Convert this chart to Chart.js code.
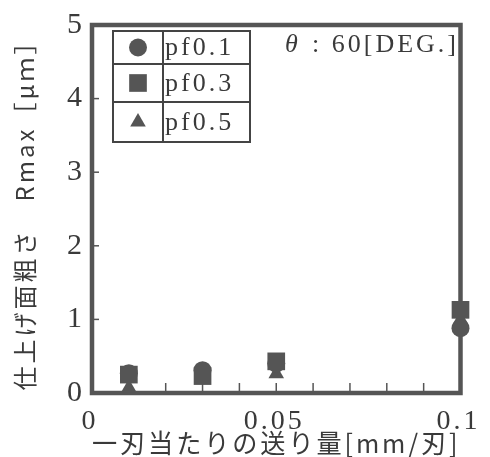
<!DOCTYPE html>
<html><head><meta charset="utf-8">
<script src="https://cdn.jsdelivr.net/npm/chart.js@4"></script>
<style>html,body{margin:0;padding:0;background:#fff}#wrap{width:490px;height:457px}</style>
</head><body><div id="wrap"><canvas id="c" width="490" height="457"></canvas></div>
<script>
// ---- data ----
const feedRates = [0.01, 0.03, 0.05, 0.1];            // 一刃当たりの送り量 [mm/刃]
const seriesLabels = ['pf0.1', 'pf0.3', 'pf0.5'];
const seriesStyles = ['circle', 'rect', 'triangle'];
const rmaxPf01 = [0.27, 0.31, 0.40, 0.88];
const rmaxPf03 = [0.25, 0.23, 0.43, 1.13];
const rmaxPf05 = [0.07, 0.25, 0.26, 1.00];
const xLabeledTicks = [0, 0.05, 0.1];
const xTitle = '一刃当たりの送り量[mm/刃]';
const yTitle = '仕上げ面粗さ　Rmax［μｍ］';
const annotationAngle = 'θ';
const annotationText = ': 60[DEG.]';

const INK = '#555555';
const TEXT = '#3a3a3a';
const TEXT_FONT = '26px "Liberation Serif"';

function toPoints(vals) { return feedRates.map((x, i) => ({x: x, y: vals[i]})); }
const seriesValues = [rmaxPf01, rmaxPf03, rmaxPf05];
const radii = {circle: 9, rect: 12.5, triangle: 9};
const orders = [1, 0, 2];

const datasets = seriesLabels.map((lab, i) => ({
  label: lab,
  data: toPoints(seriesValues[i]),
  pointStyle: seriesStyles[i],
  pointRadius: radii[seriesStyles[i]],
  backgroundColor: INK,
  borderColor: INK,
  borderWidth: 0,
  showLine: false,
  clip: false,
  order: orders[i]
}));

const framePlugin = {
  id: 'frame',
  beforeDraw(chart) {
    chart.ctx.letterSpacing = '3px';
  },
  beforeDatasetsDraw(chart) {
    const {ctx, chartArea: a, scales: {x, y}} = chart;
    ctx.save();
    ctx.strokeStyle = INK;
    ctx.lineWidth = 1.5;
    x.ticks.forEach(t => {
      const px = x.getPixelForValue(t.value);
      ctx.beginPath(); ctx.moveTo(px, a.bottom); ctx.lineTo(px, a.bottom - 10); ctx.stroke();
    });
    y.ticks.forEach(t => {
      const py = y.getPixelForValue(t.value);
      ctx.beginPath(); ctx.moveTo(a.left, py); ctx.lineTo(a.left + 7, py); ctx.stroke();
    });
    ctx.lineWidth = 4.5;
    ctx.strokeRect(a.left, a.top, a.right - a.left, a.bottom - a.top);
    ctx.restore();
  },
  afterDraw(chart) {
    const {ctx} = chart;
    ctx.save();
    // legend table
    const L = 113, M = 163, R = 250;
    const rows = [31, 64, 102, 142];
    ctx.letterSpacing = '0px';
    ctx.strokeStyle = '#444';
    ctx.lineWidth = 2;
    ctx.strokeRect(L, rows[0], R - L, rows[3] - rows[0]);
    ctx.beginPath();
    ctx.moveTo(M, rows[0]); ctx.lineTo(M, rows[3]);
    ctx.moveTo(L, rows[1]); ctx.lineTo(R, rows[1]);
    ctx.moveTo(L, rows[2]); ctx.lineTo(R, rows[2]);
    ctx.stroke();
    ctx.textBaseline = 'middle';
    ctx.textAlign = 'left';
    chart.data.datasets.forEach((ds, i) => {
      const cy = (rows[i] + rows[i + 1]) / 2;
      ctx.fillStyle = INK; ctx.strokeStyle = INK;
      ctx.letterSpacing = '0px';
      Chart.helpers.drawPoint(ctx, {pointStyle: ds.pointStyle, radius: ds.pointRadius, borderWidth: 0}, (L + M) / 2, cy);
      ctx.fillStyle = TEXT;
      ctx.letterSpacing = '3px';
      ctx.font = TEXT_FONT;
      ctx.fillText(ds.label, 165, cy + 1);
    });
    // annotation
    ctx.fillStyle = TEXT;
    ctx.letterSpacing = '0px';
    ctx.font = 'italic ' + TEXT_FONT;
    ctx.fillText(annotationAngle, 285, 45);
    ctx.letterSpacing = '3px';
    ctx.font = TEXT_FONT;
    ctx.fillText(annotationText, 312, 45);
    ctx.restore();
  }
};

new Chart(document.getElementById('c'), {
  type: 'scatter',
  data: {datasets: datasets},
  plugins: [framePlugin],
  options: {
    responsive: false,
    animation: false,
    devicePixelRatio: 1,
    layout: {padding: {left: 0, right: 18, top: 19, bottom: 0}},
    plugins: {legend: {display: false}, tooltip: {enabled: false}},
    scales: {
      x: {
        type: 'linear', min: 0, max: 0.1,
        afterFit: s => { s.height = 64; },
        ticks: {
          stepSize: 0.01, autoSkip: false, maxRotation: 0, minRotation: 0,
          padding: 12, labelOffset: -2,
          color: TEXT, font: {family: 'Liberation Serif', size: 28},
          callback: v => {
            const r = Math.round(v * 100) / 100;
            return xLabeledTicks.some(t => Math.abs(t - r) < 1e-9) ? String(r) : '';
          }
        },
        grid: {display: false, drawTicks: false},
        border: {display: false},
        title: {display: true, text: xTitle, color: TEXT, padding: 0,
                font: {family: 'Noto Sans CJK JP', size: 26, lineHeight: 1.08}}
      },
      y: {
        type: 'linear', min: 0, max: 5,
        afterFit: s => { s.width = 92; },
        ticks: {stepSize: 1, padding: 7, color: TEXT,
                font: {family: 'Liberation Serif', size: 30}},
        grid: {display: false, drawTicks: false},
        border: {display: false},
        title: {display: true, text: yTitle, color: TEXT, padding: {top: 13, bottom: 0},
                font: {family: 'Noto Sans CJK JP', size: 24, lineHeight: 1.0}}
      }
    }
  }
});
</script></body></html>
